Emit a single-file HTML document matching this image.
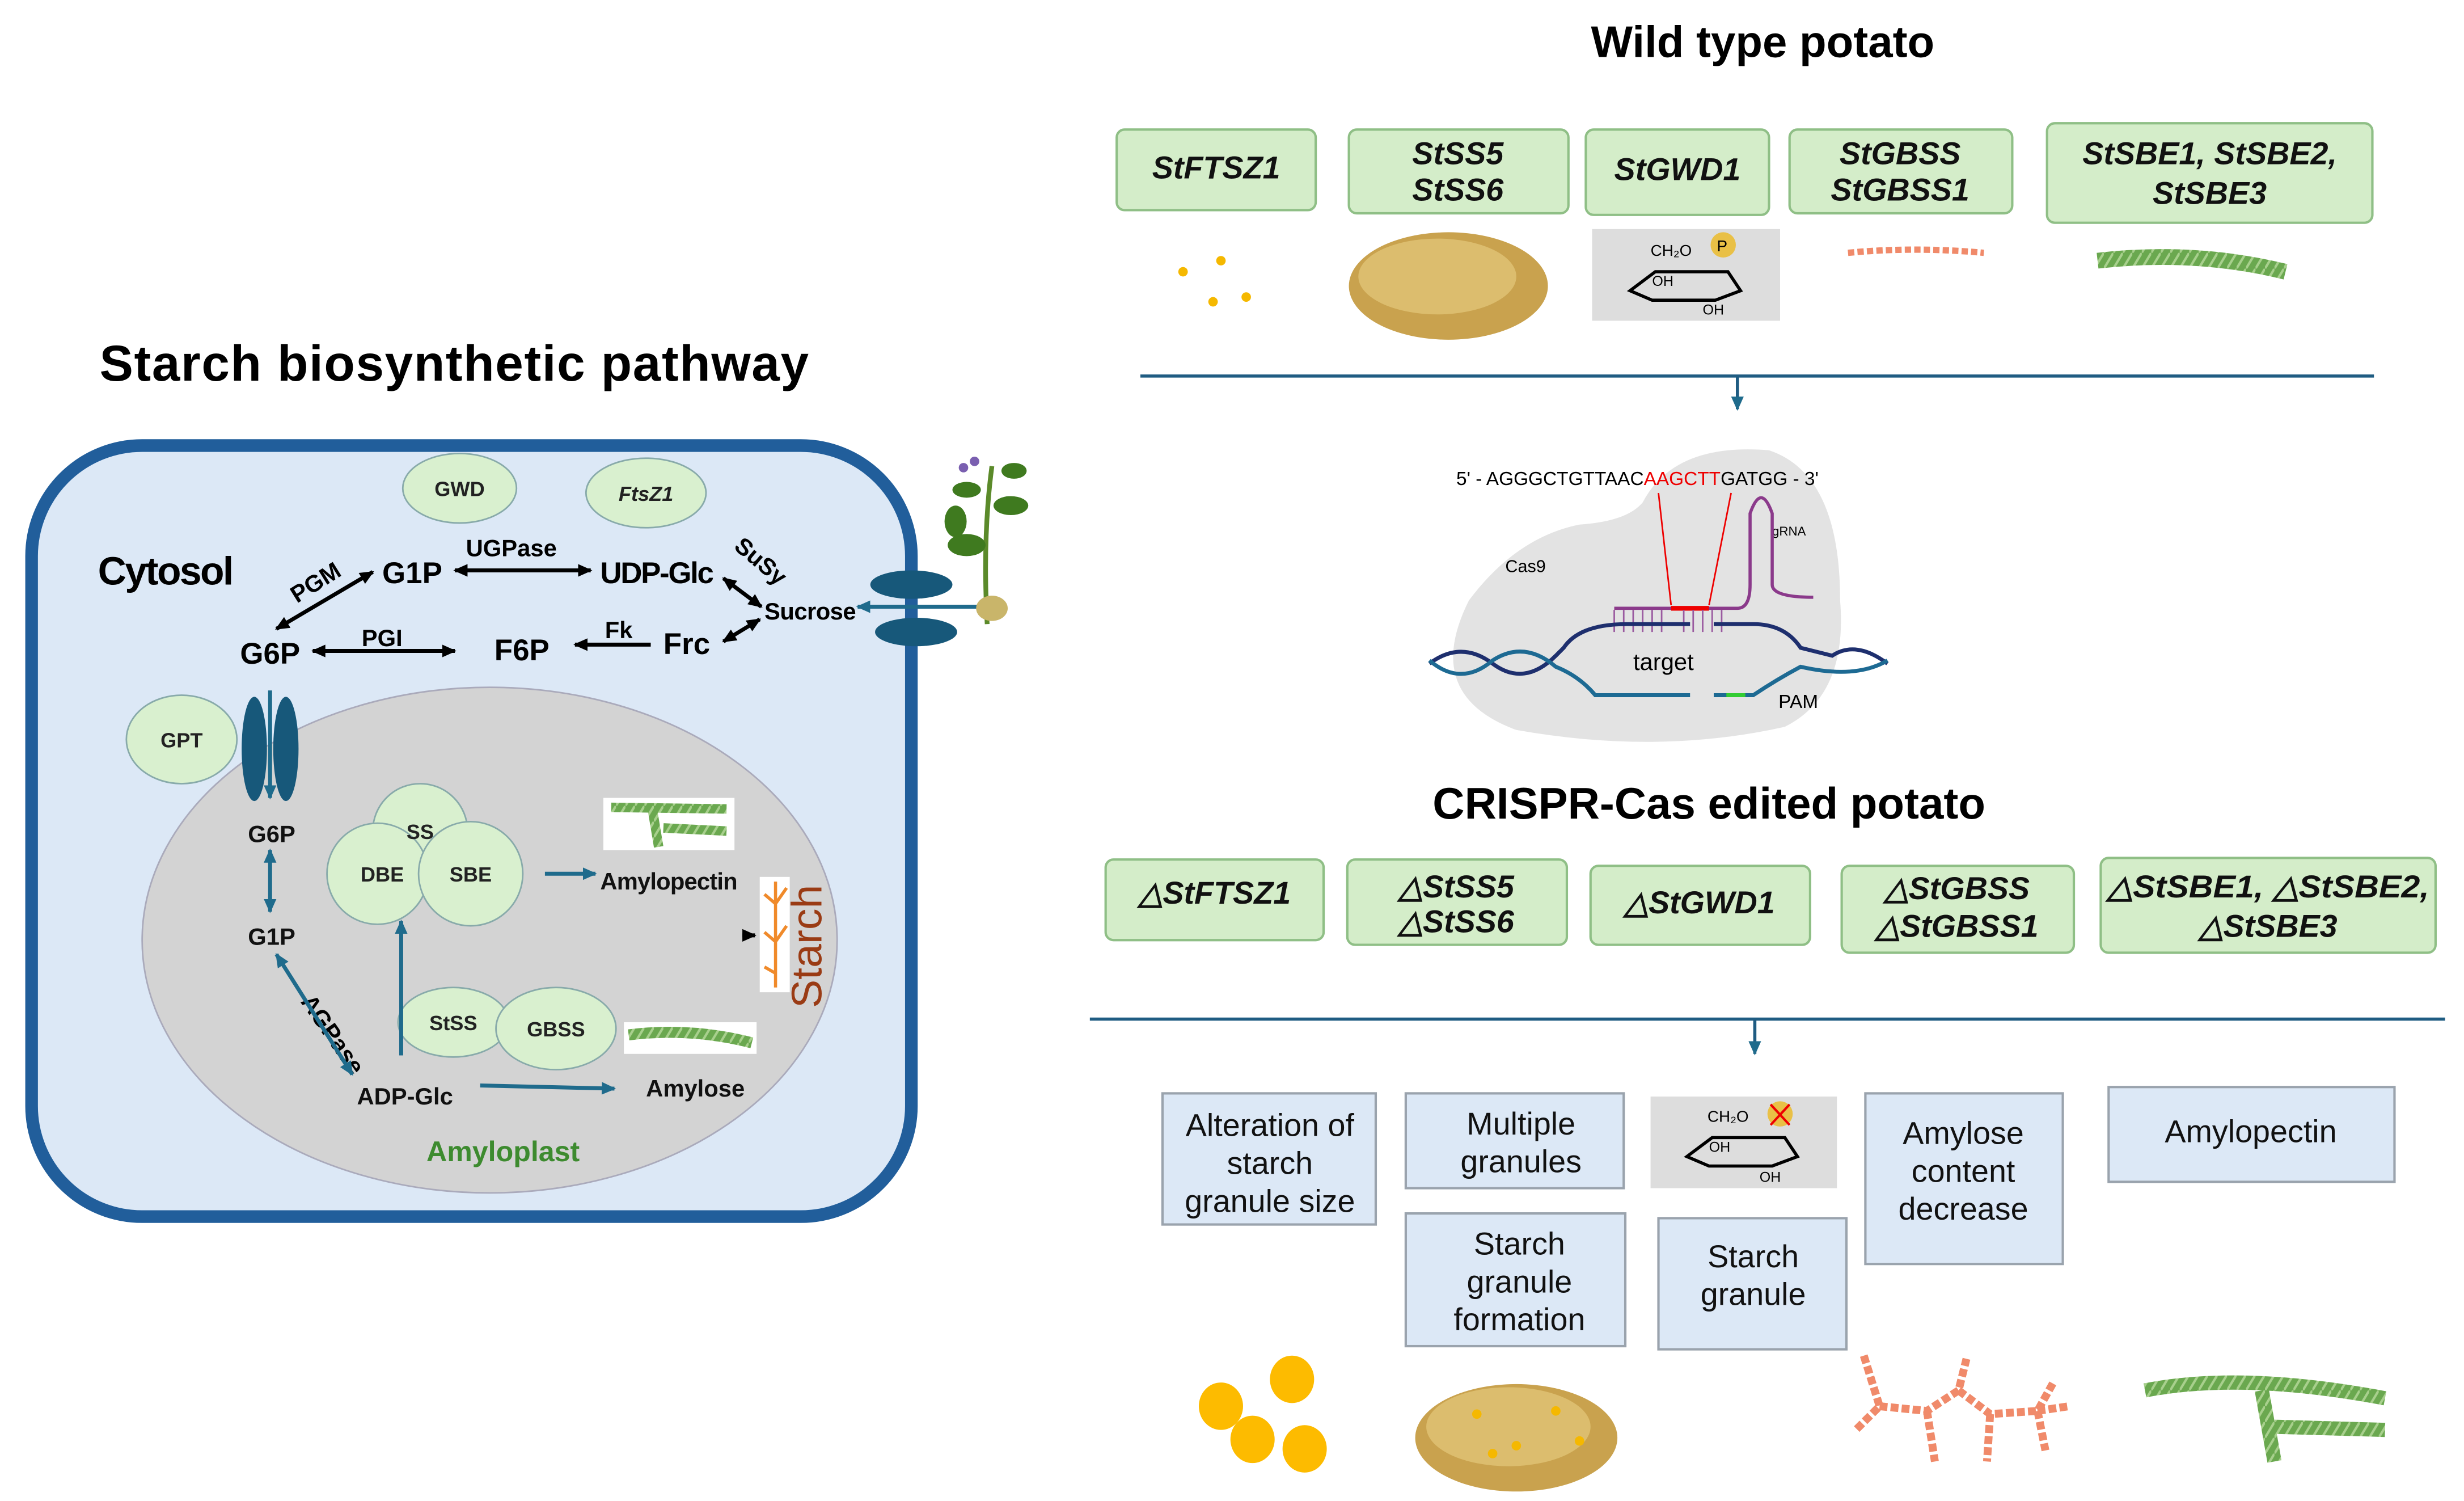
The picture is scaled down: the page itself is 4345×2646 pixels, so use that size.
<!DOCTYPE html>
<html><head><meta charset="utf-8"><style>
html,body{margin:0;padding:0;background:#fff;}
svg{display:block;}
text{font-family:"Liberation Sans",Arial,sans-serif;}
</style></head><body>
<svg width="4345" height="2646" viewBox="0 0 1560 950" preserveAspectRatio="none" xmlns="http://www.w3.org/2000/svg">
<defs>
<marker id="ab" markerWidth="9" markerHeight="8" refX="8" refY="4" orient="auto-start-reverse" markerUnits="userSpaceOnUse"><path d="M0,0 L9,4 L0,8 z" fill="#000"/></marker>
<marker id="at" markerWidth="9" markerHeight="8" refX="8" refY="4" orient="auto-start-reverse" markerUnits="userSpaceOnUse"><path d="M0,0 L9,4 L0,8 z" fill="#1f6b8c"/></marker>
<pattern id="hel" width="6" height="10" patternUnits="userSpaceOnUse"><rect width="6" height="10" fill="#6aa84f"/><path d="M0,10 L6,0" stroke="#a8d08d" stroke-width="1.5"/></pattern>
</defs>

<!-- LEFT -->
<text x="63" y="241" font-size="32" font-weight="bold" textLength="449">Starch biosynthetic pathway</text>
<rect x="20" y="282" width="557" height="488" rx="70" fill="#dce8f6" stroke="#215e9b" stroke-width="8"/>
<ellipse cx="310" cy="595" rx="220" ry="160" fill="#d3d3d3" stroke="#aab" stroke-width="1"/>
<g fill="#d9f0cf" stroke="#8aa" stroke-width="1">
<ellipse cx="291" cy="309" rx="36" ry="22"/>
<ellipse cx="409" cy="312" rx="38" ry="22"/>
<ellipse cx="115" cy="468" rx="35" ry="28"/>
<circle cx="266" cy="526" r="30"/>
<circle cx="239" cy="553" r="32"/>
<circle cx="298" cy="553" r="33"/>
<ellipse cx="287" cy="647" rx="35" ry="22"/>
<ellipse cx="352" cy="651" rx="38" ry="26"/>
</g>
<g font-size="13" text-anchor="middle" font-weight="bold" fill="#222">
<text x="291" y="314">GWD</text>
<text x="409" y="317" font-style="italic">FtsZ1</text>
<text x="115" y="473">GPT</text>
<text x="266" y="531">SS</text>
<text x="242" y="558">DBE</text>
<text x="298" y="558">SBE</text>
<text x="287" y="652">StSS</text>
<text x="352" y="656">GBSS</text>
</g>
<text x="62" y="370" font-size="25" font-weight="bold" textLength="86">Cytosol</text>
<g font-size="19" font-weight="bold">
<text x="242" y="369">G1P</text>
<text x="380" y="369" textLength="72">UDP-Glc</text>
<text x="152" y="420">G6P</text>
<text x="313" y="418">F6P</text>
<text x="420" y="414">Frc</text>
</g>
<text x="484" y="392" font-size="15" font-weight="bold" textLength="58">Sucrose</text>
<g font-size="15" font-weight="bold">
<text x="295" y="352">UGPase</text>
<text x="229" y="409">PGI</text>
<text x="383" y="404">Fk</text>
<text x="188" y="382" transform="rotate(-32 188 382)">PGM</text>
<text x="464" y="347" transform="rotate(40 464 347)">SuSy</text>
<text x="190" y="634" transform="rotate(55 190 634)">AGPase</text>
</g>
<g stroke="#000" stroke-width="2.5" fill="none">
<line x1="288" y1="361" x2="374" y2="361" marker-start="url(#ab)" marker-end="url(#ab)"/>
<line x1="198" y1="412" x2="288" y2="412" marker-start="url(#ab)" marker-end="url(#ab)"/>
<line x1="412" y1="408" x2="364" y2="408" marker-end="url(#ab)"/>
<line x1="175" y1="398" x2="236" y2="362" marker-start="url(#ab)" marker-end="url(#ab)"/>
<line x1="458" y1="366" x2="482" y2="384" marker-start="url(#ab)" marker-end="url(#ab)"/>
<line x1="458" y1="406" x2="481" y2="392" marker-start="url(#ab)" marker-end="url(#ab)"/>
<line x1="470" y1="592" x2="478" y2="592" marker-end="url(#ab)"/>
</g>
<g fill="#17587a">
<ellipse cx="577" cy="370" rx="26" ry="9"/>
<ellipse cx="580" cy="400" rx="26" ry="9"/>
<ellipse cx="161" cy="474" rx="8" ry="33"/>
<ellipse cx="181" cy="474" rx="8" ry="33"/>
</g>
<g stroke="#1f6b8c" stroke-width="2.5" fill="none">
<line x1="620" y1="384" x2="543" y2="384" marker-end="url(#at)"/>
<line x1="171" y1="437" x2="171" y2="505" marker-end="url(#at)"/>
<line x1="171" y1="538" x2="171" y2="577" marker-start="url(#at)" marker-end="url(#at)"/>
<line x1="175" y1="604" x2="223" y2="680" marker-start="url(#at)" marker-end="url(#at)"/>
<line x1="254" y1="668" x2="254" y2="583" marker-end="url(#at)"/>
<line x1="345" y1="553" x2="377" y2="553" marker-end="url(#at)"/>
<line x1="304" y1="687" x2="389" y2="689" marker-end="url(#at)"/>
</g>
<g font-size="15" font-weight="bold" fill="#111">
<text x="157" y="533">G6P</text>
<text x="157" y="598">G1P</text>
<text x="226" y="699">ADP-Glc</text>
<text x="380" y="563" textLength="87">Amylopectin</text>
<text x="409" y="694">Amylose</text>
</g>
<text x="270" y="735" font-size="18" font-weight="bold" fill="#3d8b2f">Amyloplast</text>
<text x="520" y="638" font-size="27" fill="#9a3b14" transform="rotate(-90 520 638)">Starch</text>
<rect x="382" y="505" width="83" height="33" fill="#fff"/>
<path d="M387,511 L460,512 M413,512 L417,536 M420,524 L460,526" stroke="url(#hel)" stroke-width="6" fill="none"/>
<rect x="395" y="647" width="84" height="20" fill="#fff"/>
<path d="M398,655 Q437,650 476,660" stroke="url(#hel)" stroke-width="7" fill="none"/>
<rect x="481" y="555" width="19" height="73" fill="#fff"/>
<path d="M491,558 L491,625 M484,566 L491,572 L498,562 M484,590 L491,596 L498,586 M484,612 L491,616" stroke="#f08a2a" stroke-width="2" fill="none"/>
<!-- plant -->
<path d="M625,395 Q622,340 628,295" stroke="#5b8a2a" stroke-width="3" fill="none"/>
<g fill="#3f7a1f"><ellipse cx="612" cy="345" rx="12" ry="7"/><ellipse cx="640" cy="320" rx="11" ry="6"/><ellipse cx="612" cy="310" rx="9" ry="5"/><ellipse cx="642" cy="298" rx="8" ry="5"/><ellipse cx="605" cy="330" rx="7" ry="10"/></g>
<g fill="#7a5fb0"><circle cx="610" cy="296" r="3"/><circle cx="617" cy="292" r="3"/></g>
<ellipse cx="628" cy="385" rx="10" ry="8" fill="#c9b56a"/>

<!-- RIGHT -->
<text x="1116" y="36" font-size="28" font-weight="bold" text-anchor="middle">Wild type potato</text>
<g fill="#d4edc9" stroke="#8fbf86" stroke-width="1.5">
<rect x="707" y="82" width="126" height="51" rx="5"/>
<rect x="854" y="82" width="139" height="53" rx="5"/>
<rect x="1004" y="82" width="116" height="54" rx="5"/>
<rect x="1133" y="82" width="141" height="53" rx="5"/>
<rect x="1296" y="78" width="206" height="63" rx="5"/>
<rect x="700" y="544" width="138" height="51" rx="5"/>
<rect x="853" y="544" width="139" height="54" rx="5"/>
<rect x="1007" y="548" width="139" height="50" rx="5"/>
<rect x="1166" y="548" width="147" height="55" rx="5"/>
<rect x="1330" y="543" width="212" height="60" rx="5"/>
</g>
<g font-size="20" font-weight="bold" font-style="italic" text-anchor="middle" fill="#111">
<text x="770" y="113">StFTSZ1</text>
<text x="923" y="104">StSS5</text><text x="923" y="127">StSS6</text>
<text x="1062" y="114">StGWD1</text>
<text x="1203" y="104">StGBSS</text><text x="1203" y="127">StGBSS1</text>
<text x="1399" y="104">StSBE1, StSBE2,</text><text x="1399" y="129">StSBE3</text>
<text x="769" y="572">△StFTSZ1</text>
<text x="922" y="568">△StSS5</text><text x="922" y="590">△StSS6</text>
<text x="1076" y="578">△StGWD1</text>
<text x="1239" y="569">△StGBSS</text><text x="1239" y="593">△StGBSS1</text>
<text x="1436" y="568" textLength="204" lengthAdjust="spacingAndGlyphs">△StSBE1, △StSBE2,</text><text x="1436" y="593">△StSBE3</text>
</g>
<g fill="#f5b800"><circle cx="749" cy="172" r="3"/><circle cx="773" cy="165" r="3"/><circle cx="768" cy="191" r="3"/><circle cx="789" cy="188" r="3"/></g>
<ellipse cx="917" cy="181" rx="63" ry="34" fill="#c9a24e"/>
<ellipse cx="910" cy="175" rx="50" ry="24" fill="#dcbd6e"/>
<rect x="1008" y="145" width="119" height="58" fill="#ddd"/>
<path d="M1032,184 L1048,172 L1094,172 L1102,184 L1086,190 L1046,190 z" fill="none" stroke="#000" stroke-width="2"/>
<circle cx="1091" cy="155" r="8" fill="#e9c046"/>
<text x="1045" y="162" font-size="10">CH₂O</text><text x="1087" y="159" font-size="10">P</text>
<text x="1046" y="181" font-size="9">OH</text><text x="1078" y="199" font-size="9">OH</text>
<path d="M1170,160 Q1212,156 1256,160" stroke="#f08a6a" stroke-width="4" stroke-dasharray="4 2" fill="none"/>
<path d="M1328,165 Q1390,158 1447,172" stroke="url(#hel)" stroke-width="10" fill="none"/>
<line x1="722" y1="238" x2="1503" y2="238" stroke="#1f5c82" stroke-width="2"/>
<line x1="1100" y1="238" x2="1100" y2="259" stroke="#1f5c82" stroke-width="2" marker-end="url(#at)"/>

<!-- CRISPR -->
<path d="M1000,332 Q960,340 930,380 Q900,440 960,462 Q1050,478 1130,460 Q1170,440 1165,380 Q1165,300 1120,285 Q1060,280 1040,318 Q1030,330 1000,332 z" fill="#e3e3e3"/>
<text x="922" y="307" font-size="12">5' - AGGGCTGTTAAC<tspan fill="#e00">AAGCTT</tspan>GATGG - 3'</text>
<text x="953" y="362" font-size="11">Cas9</text>
<text x="1122" y="339" font-size="8">gRNA</text>
<line x1="1050" y1="312" x2="1058" y2="383" stroke="#e00" stroke-width="1"/>
<line x1="1096" y1="312" x2="1082" y2="383" stroke="#e00" stroke-width="1"/>
<path d="M1022,385 L1100,385 Q1108,385 1108,370 L1108,325 Q1115,305 1122,325 L1122,370 Q1122,378 1148,378" stroke="#8b3a8b" stroke-width="2" fill="none"/>
<line x1="1058" y1="385" x2="1082" y2="385" stroke="#e00" stroke-width="3"/>
<path d="M1022,386 v14 M1028,386 v14 M1034,386 v14 M1040,386 v14 M1046,386 v14 M1052,386 v14 M1066,386 v14 M1072,386 v14 M1078,386 v14 M1084,386 v14 M1090,386 v14" stroke="#9a5aa0" stroke-width="1"/>
<path d="M905,420 Q925,405 945,420 Q965,435 985,415 L990,410 Q1000,395 1030,395 L1070,395 M1085,395 L1110,395 Q1130,395 1140,410 L1160,415 Q1175,405 1195,420" stroke="#1e2f6e" stroke-width="2.5" fill="none"/>
<path d="M905,418 Q925,435 945,418 Q965,405 985,422 Q1000,428 1010,440 L1070,440 M1085,440 L1110,440 Q1125,430 1140,422 Q1175,430 1195,418" stroke="#1d6a93" stroke-width="2.5" fill="none"/>
<line x1="1093" y1="440" x2="1105" y2="440" stroke="#3c3" stroke-width="2.5"/>
<text x="1034" y="424" font-size="15">target</text>
<text x="1126" y="448" font-size="12">PAM</text>

<text x="1082" y="518" font-size="28" font-weight="bold" text-anchor="middle">CRISPR-Cas edited potato</text>
<line x1="690" y1="645" x2="1548" y2="645" stroke="#1f5c82" stroke-width="2"/>
<line x1="1111" y1="645" x2="1111" y2="667" stroke="#1f5c82" stroke-width="2" marker-end="url(#at)"/>

<g fill="#dce8f6" stroke="#9aa3ad" stroke-width="1.5">
<rect x="736" y="692" width="135" height="83"/>
<rect x="890" y="692" width="138" height="60"/>
<rect x="1181" y="692" width="125" height="108"/>
<rect x="1335" y="688" width="181" height="60"/>
<rect x="890" y="768" width="139" height="84"/>
<rect x="1050" y="771" width="119" height="83"/>
</g>
<g font-size="20" text-anchor="middle" fill="#111">
<text x="804" y="719">Alteration of</text><text x="804" y="743">starch</text><text x="804" y="767">granule size</text>
<text x="963" y="718">Multiple</text><text x="963" y="742">granules</text>
<text x="1243" y="724">Amylose</text><text x="1243" y="748">content</text><text x="1243" y="772">decrease</text>
<text x="1425" y="723">Amylopectin</text>
<text x="962" y="794">Starch</text><text x="962" y="818">granule</text><text x="962" y="842">formation</text>
<text x="1110" y="802">Starch</text><text x="1110" y="826">granule</text>
</g>
<rect x="1045" y="694" width="118" height="58" fill="#ddd"/>
<path d="M1068,732 L1084,720 L1130,720 L1138,732 L1122,738 L1082,738 z" fill="none" stroke="#000" stroke-width="2"/>
<circle cx="1127" cy="705" r="8" fill="#e9c046"/>
<path d="M1121,699 L1133,712 M1133,699 L1121,712" stroke="#e00" stroke-width="1.5"/>
<text x="1081" y="710" font-size="10">CH₂O</text>
<text x="1082" y="729" font-size="9">OH</text><text x="1114" y="748" font-size="9">OH</text>

<g fill="#fdbb00">
<ellipse cx="773" cy="890" rx="14" ry="15"/><ellipse cx="818" cy="873" rx="14" ry="15"/>
<ellipse cx="793" cy="911" rx="14" ry="15"/><ellipse cx="826" cy="917" rx="14" ry="15"/>
</g>
<ellipse cx="960" cy="910" rx="64" ry="34" fill="#c9a24e"/>
<ellipse cx="955" cy="903" rx="52" ry="25" fill="#dcbd6e"/>
<g fill="#f5b800"><circle cx="935" cy="895" r="3"/><circle cx="985" cy="893" r="3"/><circle cx="960" cy="915" r="3"/><circle cx="1000" cy="912" r="3"/><circle cx="945" cy="920" r="3"/></g>
<path d="M1180,858 L1190,890 L1175,905 M1190,890 L1220,893 L1240,880 L1245,860 M1220,893 L1225,925 M1240,880 L1260,895 L1290,893 L1300,875 M1260,895 L1258,925 M1290,893 L1310,890 M1290,893 L1295,918" stroke="#f08a6a" stroke-width="5" stroke-dasharray="5 2" fill="none"/>
<path d="M1358,880 Q1420,868 1510,885 M1432,880 L1440,925 M1440,903 L1510,905" stroke="url(#hel)" stroke-width="9" fill="none"/>
</svg>
</body></html>
